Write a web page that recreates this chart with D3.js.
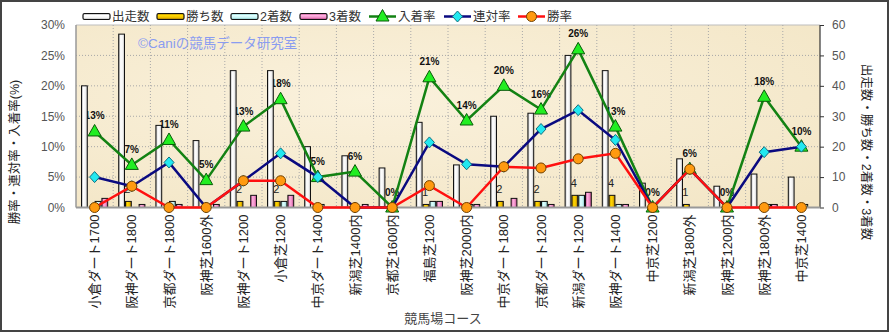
<!DOCTYPE html>
<html><head><meta charset="utf-8">
<script src="https://cdn.jsdelivr.net/npm/d3@7/dist/d3.min.js"></script>
<style>
body{margin:0;padding:0;background:#fff;}
svg{display:block;}
text{font-family:"Liberation Sans","Noto Sans CJK JP",sans-serif;}
</style></head>
<body>
<svg id="chart" width="889" height="332"></svg>
<script>
const categories = ["小倉ダート1700","阪神ダート1800","京都ダート1800","阪神芝1600外","阪神ダート1200","小倉芝1200","中京ダート1400","新潟芝1400内","京都芝1600内","福島芝1200","阪神芝2000内","中京ダート1800","京都ダート1200","新潟ダート1200","阪神ダート1400","中京芝1200","新潟芝1800外","阪神芝1200内","阪神芝1800外","中京芝1400"];
const starts = [40,57,27,22,45,45,20,17,13,28,14,30,31,50,45,8,16,7,11,10];
const wins   = [0,2,0,0,2,2,0,0,0,1,0,2,2,4,4,0,1,0,0,0];
const seconds= [2,0,2,0,0,2,1,0,0,2,1,0,2,4,1,0,0,0,1,1];
const thirds = [3,1,1,1,4,4,0,1,0,2,1,3,1,5,1,0,0,0,1,0];
const placeRate = [12.5,7.0,11.1,4.5,13.3,17.8,5.0,5.9,0,21.4,14.3,20.0,16.1,26.0,13.3,0,6.3,0,18.2,10.0];
const rentaiRate = [5.0,3.5,7.4,0,4.4,8.9,5.0,0,0,10.7,7.1,6.7,12.9,16.0,11.1,0,6.3,0,9.1,10.0];
const winRate = [0,3.5,0,0,4.4,4.4,0,0,0,3.6,0,6.7,6.5,8.0,8.9,0,6.3,0,0,0];
const leftTicks = [0,5,10,15,20,25,30];
const rightTicks = [0,10,20,30,40,50,60];
const barSeries = ["出走数","勝ち数","2着数","3着数"];
const lineSeries = ["入着率","連対率","勝率"];

const svg = d3.select("#chart");
const W = 889, H = 332;
const plot = {l:76, r:820, t:25, b:207.5};

const defs = svg.append("defs");
function grad(id, stops, vertical){
  const g = defs.append("linearGradient").attr("id", id)
    .attr("x1","0").attr("y1","0").attr("x2", vertical?"0":"1").attr("y2", vertical?"1":"0");
  stops.forEach((c,i)=>g.append("stop").attr("offset", (i/(stops.length-1)*100)+"%").attr("stop-color", c));
}
const barColors = {
  "出走数":["#a8a8a8","#ffffff","#f4f4f4","#b8b8b8"],
  "勝ち数":["#b08000","#ffd800","#f0c000","#a07000"],
  "2着数":["#80c8c8","#e0ffff","#c8f4f4","#80c0c0"],
  "3着数":["#c05090","#ffb0e0","#f090c8","#b04080"]
};
barSeries.forEach((s,i)=>{ grad("gh"+i, barColors[s], false); grad("gv"+i, barColors[s], true); });
// background texture
const bgG = defs.append("radialGradient").attr("id","bgg").attr("cx","40%").attr("cy","40%").attr("r","80%");
bgG.append("stop").attr("offset","0%").attr("stop-color","#faf1dc");
bgG.append("stop").attr("offset","100%").attr("stop-color","#f3e6c6");

svg.append("rect").attr("x",0).attr("y",0).attr("width",W).attr("height",H).attr("fill","#fff");

const x = d3.scaleBand().domain(categories).range([plot.l, plot.r]).paddingInner(0).paddingOuter(0);
const bw = x.bandwidth();
const xs = d3.scaleBand().domain(barSeries).range([bw/2-13.6, bw/2+13.6]);
const yL = d3.scaleLinear().domain([0,30]).range([plot.b, plot.t]);
const yR = d3.scaleLinear().domain([0,60]).range([plot.b, plot.t]);

// plot background
svg.append("rect").attr("x",plot.l).attr("y",plot.t).attr("width",plot.r-plot.l).attr("height",plot.b-plot.t).attr("fill","url(#bgg)");

// grid
const grid = svg.append("g");
leftTicks.forEach(t=>{
  if(t===0) return;
  grid.append("line").attr("x1",plot.l).attr("x2",plot.r).attr("y1",yL(t)).attr("y2",yL(t))
   .attr("stroke", t===30?"#bdbdbd":"#a8a8a8").attr("stroke-width",1).attr("stroke-dasharray", t===30?null:"1,2");
});
categories.forEach((c,i)=>{
  if(i===0) return;
  grid.append("line").attr("x1",x(c)).attr("x2",x(c)).attr("y1",plot.t).attr("y2",plot.b)
   .attr("stroke","#a8a8a8").attr("stroke-dasharray","1,2");
});

// percent labels (drawn under bars)
const lbl = svg.append("g");
categories.forEach((c,i)=>{
  lbl.append("text").attr("x", x(c)+bw/2).attr("y", yL(placeRate[i])-12)
    .attr("text-anchor","middle").attr("font-size",10).attr("font-weight","bold").attr("fill","#111")
    .text(Math.round(placeRate[i])+"%");
  if(wins[i]>0){
    lbl.append("text").attr("x", x(c)+xs("勝ち数")+xs.bandwidth()/2-1).attr("y", yR(wins[i])-8)
      .attr("text-anchor","middle").attr("font-size",11).attr("fill","#222").text(wins[i]);
  }
});

// bars
const barData = [starts, wins, seconds, thirds];
barSeries.forEach((s,si)=>{
  svg.append("g").selectAll("rect").data(categories).join("rect")
    .attr("x", c=>x(c)+xs(s)+0.5)
    .attr("y", (c,i)=>yR(barData[si][i]))
    .attr("width", xs.bandwidth()-1)
    .attr("height", (c,i)=>Math.max(0, plot.b - yR(barData[si][i])))
    .attr("fill", "url(#gh"+si+")")
    .attr("stroke", (c,i)=>barData[si][i]>0?"#111":"none").attr("stroke-width",1);
});

// axes lines
svg.append("line").attr("x1",plot.l).attr("x2",plot.l).attr("y1",plot.t).attr("y2",plot.b).attr("stroke","#999").attr("stroke-width",1.5);
svg.append("line").attr("x1",plot.r).attr("x2",plot.r).attr("y1",plot.t).attr("y2",plot.b).attr("stroke","#333").attr("stroke-width",1.2);
svg.append("line").attr("x1",plot.l).attr("x2",plot.r).attr("y1",plot.b).attr("y2",plot.b).attr("stroke","#999").attr("stroke-width",2);

// left axis
const axL = svg.append("g").attr("transform",`translate(${plot.l},0)`)
  .call(d3.axisLeft(yL).tickValues(leftTicks).tickFormat(d=>d+"%").tickSize(0).tickPadding(11));
axL.select(".domain").remove();
axL.selectAll("text").attr("font-size",12).attr("fill","#555").attr("font-family","'Liberation Sans',sans-serif");
// right axis
const axR = svg.append("g").attr("transform",`translate(${plot.r},0)`)
  .call(d3.axisRight(yR).tickValues(rightTicks).tickSize(4).tickPadding(8));
axR.select(".domain").remove();
axR.selectAll("line").attr("stroke","#333");
axR.selectAll("text").attr("font-size",12).attr("fill","#555").attr("font-family","'Liberation Sans',sans-serif");
// bottom axis
const axB = svg.append("g").attr("transform",`translate(0,${plot.b})`)
  .call(d3.axisBottom(x).tickSize(0).tickPadding(0));
axB.select(".domain").remove();
axB.selectAll("text").attr("transform","rotate(-90)").attr("text-anchor","end")
  .attr("x",-7).attr("y",0).attr("dy","0.35em").attr("font-size",13).attr("fill","#222")
  .attr("font-family","'Noto Sans CJK JP',sans-serif");

// lines
function drawLine(vals, color, markerFn){
  const line = d3.line().x((d,i)=>x(categories[i])+bw/2).y(d=>yL(d));
  svg.append("path").datum(vals).attr("d",line).attr("fill","none").attr("stroke",color).attr("stroke-width",2.5);
  const g = svg.append("g");
  vals.forEach((v,i)=>markerFn(g, x(categories[i])+bw/2, yL(v)));
}
const tri = (g,cx,cy)=>g.append("path").attr("d",`M${cx},${cy-7}L${cx+6.5},${cy+4.5}L${cx-6.5},${cy+4.5}Z`).attr("fill","#22ee22").attr("stroke","#0a5a0a").attr("stroke-width",1);
const dia = (g,cx,cy)=>g.append("path").attr("d",`M${cx},${cy-5.5}L${cx+5},${cy}L${cx},${cy+5.5}L${cx-5},${cy}Z`).attr("fill","#22e8f0").attr("stroke","#107080").attr("stroke-width",1);
const circ = (g,cx,cy)=>g.append("circle").attr("cx",cx).attr("cy",cy).attr("r",5).attr("fill","#ff9a10").attr("stroke","#704000").attr("stroke-width",1);
drawLine(placeRate, "#138213", tri);
drawLine(rentaiRate, "#0a0a80", dia);
drawLine(winRate, "#ff1010", circ);

// watermark
svg.append("text").attr("x",138).attr("y",48).attr("font-size",13.5).attr("fill","#8a9cf0")
  .attr("font-family","'Noto Sans CJK JP',sans-serif").text("©Caniの競馬データ研究室");

// legend
const leg = svg.append("g");
const legItems = [
  {name:"出走数", x:83, type:"bar", i:0},
  {name:"勝ち数", x:157, type:"bar", i:1},
  {name:"2着数", x:231, type:"bar", i:2},
  {name:"3着数", x:300, type:"bar", i:3},
  {name:"入着率", x:369, type:"line", color:"#138213", m:tri},
  {name:"連対率", x:444, type:"line", color:"#0a0a80", m:dia},
  {name:"勝率", x:518, type:"line", color:"#ff1010", m:circ}
];
legItems.forEach(it=>{
  if(it.type==="bar"){
    leg.append("rect").attr("x",it.x).attr("y",13.5).attr("width",27).attr("height",6).attr("rx",1.5)
      .attr("fill","url(#gv"+it.i+")").attr("stroke","#111").attr("stroke-width",1.2);
  } else {
    leg.append("line").attr("x1",it.x).attr("x2",it.x+27).attr("y1",16.5).attr("y2",16.5).attr("stroke",it.color).attr("stroke-width",2.5);
    it.m(leg, it.x+13.5, 16.5);
  }
  leg.append("text").attr("x",it.x+29).attr("y",16.5).attr("dy","0.36em").attr("font-size",12.5).attr("fill","#333")
    .attr("font-family","'Noto Sans CJK JP',sans-serif").text(it.name);
});

// axis titles
svg.append("text").attr("transform","translate(15,152) rotate(-90)").attr("text-anchor","middle").attr("dy","0.35em")
  .attr("font-size",12.5).attr("fill","#222").attr("font-family","'Noto Sans CJK JP',sans-serif").text("勝率・連対率・入着率(%)");
svg.append("text").attr("transform","translate(866,152) rotate(90)").attr("text-anchor","middle").attr("dy","0.35em")
  .attr("font-size",12.5).attr("fill","#222").attr("font-family","'Noto Sans CJK JP',sans-serif").text("出走数・勝ち数・2着数・3着数");
svg.append("text").attr("x",443).attr("y",318).attr("text-anchor","middle").attr("dy","0.35em")
  .attr("font-size",13).attr("fill","#444").attr("font-family","'Noto Sans CJK JP',sans-serif").text("競馬場コース");

// frame
svg.append("rect").attr("x",1).attr("y",1).attr("width",W-2).attr("height",H-2).attr("fill","none").attr("stroke","#444").attr("stroke-width",2);
</script>
</body></html>
